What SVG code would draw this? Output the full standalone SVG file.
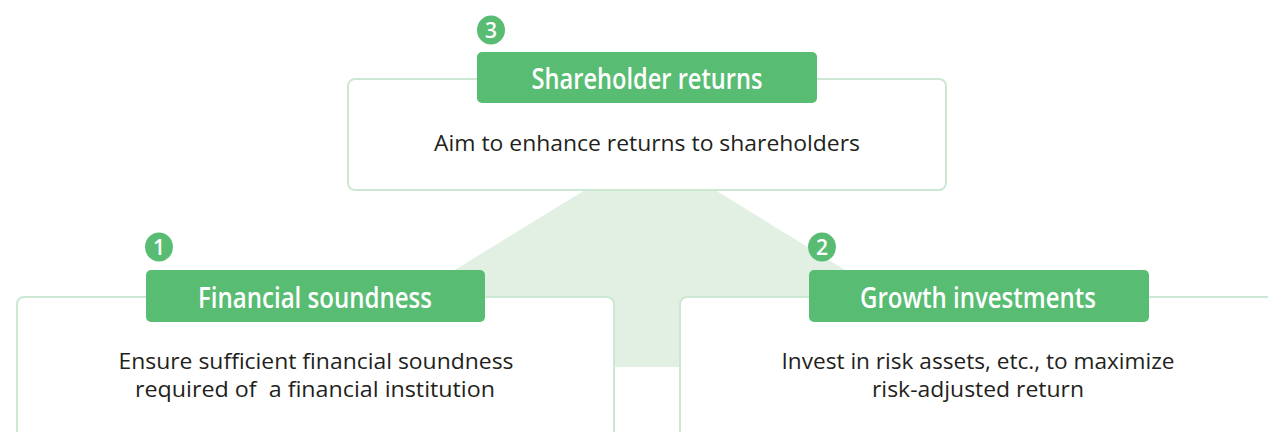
<svg xmlns="http://www.w3.org/2000/svg" width="1268" height="432" viewBox="0 0 1268 432">
  <style>
    .card { fill: #ffffff; stroke: #cce8d2; stroke-width: 2; }
    .head { fill: #58bc72; }
    .badge { fill: #58bc72; }
    .headText { font-family: "Open Sans", "Liberation Sans", sans-serif; font-size: 28.5px; font-weight: 600; fill: #ffffff; text-anchor: middle; }
    .badgeText { font-family: "Open Sans", "Liberation Sans", sans-serif; font-size: 21px; font-weight: 600; fill: #ffffff; text-anchor: middle; }
    .body { font-family: "Open Sans", "Liberation Sans", sans-serif; font-size: 21.5px; fill: #231f20; text-anchor: middle; white-space: pre; }
    .link { fill: #e2f0e4; }
  </style>

  <!-- shared backdrop linking the top goal to the two pillars -->
  <g id="connectors">
    <polygon class="link" points="585,190 715,190 1003,367 297,367"/>
  </g>

  <!-- goal 3 -->
  <g id="node-shareholder-returns">
    <rect class="card" x="348" y="79" width="598" height="111" rx="7"/>
    <rect class="head" x="477" y="52" width="340" height="51" rx="5"/>
    <text class="headText" x="647" y="89" textLength="231" lengthAdjust="spacingAndGlyphs">Shareholder returns</text>
    <text class="body" x="647" y="151" textLength="426" lengthAdjust="spacingAndGlyphs">Aim to enhance returns to shareholders</text>
    <ellipse class="badge" cx="491" cy="30" rx="14" ry="14.5"/>
    <text class="badgeText" x="491" y="37.5">3</text>
  </g>

  <!-- goal 1 -->
  <g id="node-financial-soundness">
    <rect class="card" x="17" y="297" width="597" height="150" rx="7"/>
    <rect class="head" x="146" y="270" width="339" height="52" rx="5"/>
    <text class="headText" x="315" y="308" textLength="234" lengthAdjust="spacingAndGlyphs">Financial soundness</text>
    <text class="body" x="316" y="369" textLength="395" lengthAdjust="spacingAndGlyphs">Ensure sufficient financial soundness</text>
    <text class="body" x="315" y="397" textLength="360" lengthAdjust="spacingAndGlyphs">required of  a financial institution</text>
    <ellipse class="badge" cx="159" cy="247" rx="14" ry="14.5"/>
    <text class="badgeText" x="159" y="254.5">1</text>
  </g>

  <!-- goal 2 -->
  <g id="node-growth-investments">
    <rect class="card" x="680" y="297" width="610" height="150" rx="7"/>
    <rect class="head" x="809" y="270" width="340" height="52" rx="5"/>
    <text class="headText" x="978" y="308" textLength="236" lengthAdjust="spacingAndGlyphs">Growth investments</text>
    <text class="body" x="978" y="369" textLength="393" lengthAdjust="spacingAndGlyphs">Invest in risk assets, etc., to maximize</text>
    <text class="body" x="978" y="397" textLength="212" lengthAdjust="spacingAndGlyphs">risk-adjusted return</text>
    <ellipse class="badge" cx="822" cy="247" rx="14" ry="14.5"/>
    <text class="badgeText" x="822" y="254.5">2</text>
  </g>
</svg>
